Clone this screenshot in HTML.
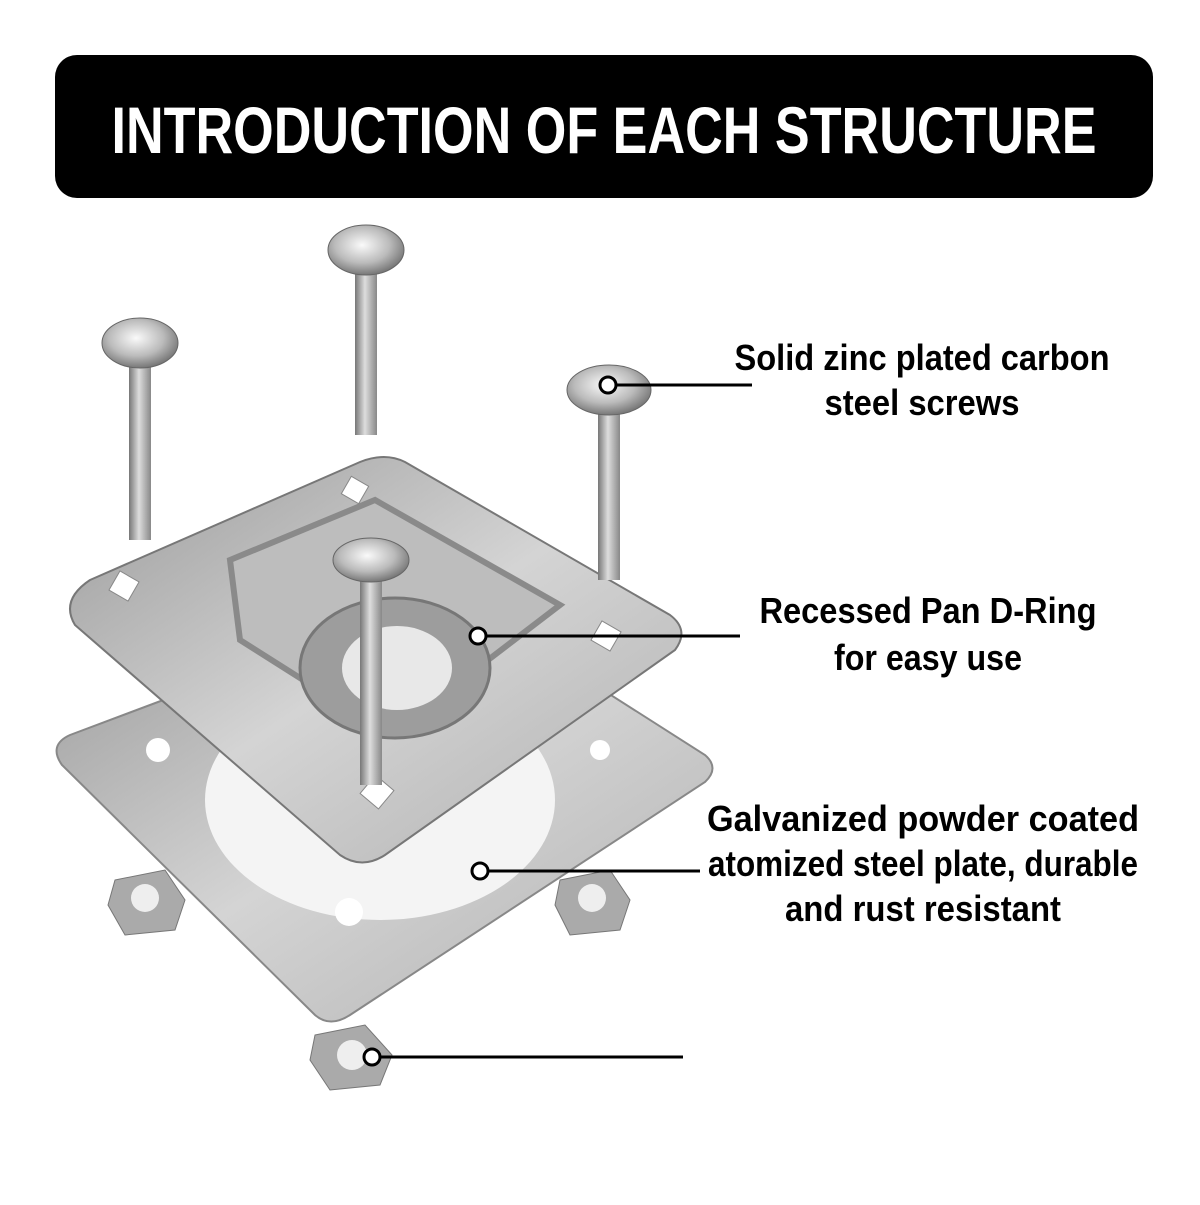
<!DOCTYPE html>
<html><head><meta charset="utf-8"><style>
body{margin:0;background:#fff;width:1200px;height:1200px;overflow:hidden}
</style></head><body>
<svg width="1200" height="1200" xmlns="http://www.w3.org/2000/svg">
<defs>
<linearGradient id="sh" x1="0" x2="1"><stop offset="0" stop-color="#777"/><stop offset=".45" stop-color="#ddd"/><stop offset="1" stop-color="#888"/></linearGradient>
<radialGradient id="hd" cx=".45" cy=".4" r=".6"><stop offset="0" stop-color="#fafafa"/><stop offset=".6" stop-color="#bbb"/><stop offset="1" stop-color="#777"/></radialGradient>
<linearGradient id="pl" x1="0" y1="0" x2="1" y2="1"><stop offset="0" stop-color="#9a9a9a"/><stop offset=".5" stop-color="#d4d4d4"/><stop offset="1" stop-color="#b0b0b0"/></linearGradient>
</defs>
<rect x="55" y="55" width="1098" height="143" rx="22" fill="#000"/>
<text x="604" y="153" text-anchor="middle" fill="#fff" font-family="Liberation Sans,sans-serif" font-weight="bold" font-size="66" textLength="985" lengthAdjust="spacingAndGlyphs">INTRODUCTION OF EACH STRUCTURE</text>
<!-- bottom plate -->
<path d="M70,735 L430,600 Q450,595 465,602 L705,755 Q720,768 705,782 L350,1015 Q330,1028 315,1015 L62,765 Q48,745 70,735Z" fill="url(#pl)" stroke="#888" stroke-width="2"/>
<ellipse cx="380" cy="800" rx="175" ry="120" fill="#f4f4f4"/>
<circle cx="158" cy="750" r="12" fill="#fff"/><circle cx="349" cy="912" r="14" fill="#fff"/><circle cx="600" cy="750" r="10" fill="#fff"/>
<!-- nuts -->
<g fill="#aaa" stroke="#777"><polygon points="115,880 165,870 185,900 175,930 125,935 108,905"/><polygon points="560,880 610,870 630,900 620,930 570,935 555,905"/><polygon points="315,1035 365,1025 392,1055 380,1085 330,1090 310,1060"/></g>
<g fill="#eee"><circle cx="145" cy="898" r="14"/><circle cx="592" cy="898" r="14"/><circle cx="352" cy="1055" r="15"/></g>
<!-- upper plate -->
<path d="M90,580 L360,462 Q385,452 405,462 L670,615 Q690,630 675,650 L385,855 Q362,870 340,855 L75,625 Q60,600 90,580Z" fill="url(#pl)" stroke="#777" stroke-width="2"/>
<path d="M230,560 L375,500 L560,605 L390,735 L240,640Z" fill="#bdbdbd" stroke="#8a8a8a" stroke-width="6"/>
<ellipse cx="395" cy="668" rx="95" ry="70" fill="#9d9d9d" stroke="#777" stroke-width="3"/>
<ellipse cx="397" cy="668" rx="55" ry="42" fill="#e8e8e8"/>
<g fill="#fff" stroke="#888"><rect x="345" y="480" width="20" height="20" transform="rotate(30 355 490)"/><rect x="113" y="575" width="22" height="22" transform="rotate(30 124 586)"/><rect x="595" y="625" width="22" height="22" transform="rotate(30 606 636)"/><rect x="365" y="780" width="24" height="24" transform="rotate(40 377 792)"/></g>
<!-- screws -->
<g>
<rect x="129" y="340" width="22" height="200" fill="url(#sh)"/><ellipse cx="140" cy="343" rx="38" ry="25" fill="url(#hd)" stroke="#666"/>
<rect x="355" y="245" width="22" height="190" fill="url(#sh)"/><ellipse cx="366" cy="250" rx="38" ry="25" fill="url(#hd)" stroke="#666"/>
<rect x="598" y="385" width="22" height="195" fill="url(#sh)"/><ellipse cx="609" cy="390" rx="42" ry="25" fill="url(#hd)" stroke="#666"/>
<rect x="360" y="560" width="22" height="225" fill="url(#sh)"/><ellipse cx="371" cy="560" rx="38" ry="22" fill="url(#hd)" stroke="#666"/>
</g>
<!-- callouts -->
<g stroke="#000" stroke-width="3"><line x1="608" y1="385" x2="752" y2="385"/><line x1="478" y1="636" x2="740" y2="636"/><line x1="480" y1="871" x2="700" y2="871"/><line x1="372" y1="1057" x2="683" y2="1057"/></g>
<g fill="#fff" stroke="#000" stroke-width="3"><circle cx="608" cy="385" r="8"/><circle cx="478" cy="636" r="8"/><circle cx="480" cy="871" r="8"/><circle cx="372" cy="1057" r="8"/></g>
<g font-family="Liberation Sans,sans-serif" font-weight="bold" font-size="36" text-anchor="middle" fill="#000">
<text x="922" y="370" textLength="375" lengthAdjust="spacingAndGlyphs">Solid zinc plated carbon</text>
<text x="922" y="415" textLength="195" lengthAdjust="spacingAndGlyphs">steel screws</text>
<text x="928" y="623" textLength="337" lengthAdjust="spacingAndGlyphs">Recessed Pan D-Ring</text>
<text x="928" y="670" textLength="188" lengthAdjust="spacingAndGlyphs">for easy use</text>
<text x="923" y="831" textLength="432" lengthAdjust="spacingAndGlyphs">Galvanized powder coated</text>
<text x="923" y="876" textLength="430" lengthAdjust="spacingAndGlyphs">atomized steel plate, durable</text>
<text x="923" y="921" textLength="276" lengthAdjust="spacingAndGlyphs">and rust resistant</text>
</g>
</svg>
</body></html>
